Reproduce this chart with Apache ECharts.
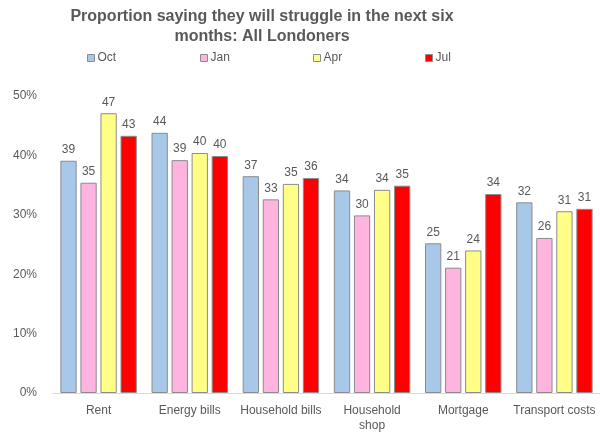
<!DOCTYPE html>
<html>
<head>
<meta charset="utf-8">
<script src="https://cdn.jsdelivr.net/npm/echarts@6/dist/echarts.min.js"></script>
<style>html,body{margin:0;padding:0;background:#fff;}#c{width:600px;height:433px;}</style>
</head>
<body>
<div id="c"></div>
<script>
const categories = ["Rent", "Energy bills", "Household bills", "Household\nshop", "Mortgage", "Transport costs"];
const seriesNames = ["Oct", "Jan", "Apr", "Jul"];
const octValues = [39.1, 43.8, 36.5, 34.1, 25.2, 32.1];
const janValues = [35.4, 39.2, 32.6, 29.9, 21.1, 26.1];
const aprValues = [47.1, 40.4, 35.2, 34.2, 24.0, 30.6];
const julValues = [43.3, 39.9, 36.2, 34.9, 33.5, 31.0];
const yTicks = [0, 10, 20, 30, 40, 50];

const colors = ["#A7C8E8", "#FFB3DF", "#FFFF88", "#FF0000"];
const allValues = [octValues, janValues, aprValues, julValues];
const textColor = "#595959";
const font = "Liberation Sans, Arial, sans-serif";

const legendLefts = [82, 195, 308, 420];

const chart = echarts.init(document.getElementById('c'), null, {renderer: 'canvas'});
chart.setOption({
  animation: false,
  textStyle: {fontFamily: font, color: textColor},
  title: {
    text: "Proportion saying they will struggle in the next six\nmonths: All Londoners",
    left: 257, textAlign: 'center', top: 2,
    textStyle: {fontFamily: font, fontSize: 16, fontWeight: 'bold', color: textColor, lineHeight: 20}
  },
  legend: seriesNames.map((n, i) => ({
    data: [n], left: legendLefts[i], top: 47,
    itemWidth: 7, itemHeight: 7, itemGap: 4, icon: 'rect',
    itemStyle: {borderColor: '#8C8C8C', borderWidth: 1},
    textStyle: {fontFamily: font, fontSize: 12, color: textColor, padding: [0, 0, 0, -2]}
  })),
  grid: {left: 53, right: 0, top: 96, bottom: 37, containLabel: false},
  xAxis: {
    type: 'category', data: categories,
    axisLine: {lineStyle: {color: '#D9D9D9'}},
    axisTick: {show: false},
    axisLabel: {fontFamily: font, fontSize: 12, color: textColor, margin: 10, interval: 0, lineHeight: 15}
  },
  yAxis: {
    type: 'value', min: yTicks[0], max: yTicks[yTicks.length - 1], interval: 10,
    axisLine: {show: false}, axisTick: {show: false},
    splitLine: {show: false},
    axisLabel: {fontFamily: font, fontSize: 12, color: textColor, margin: 16, formatter: v => v + '%'}
  },
  series: seriesNames.map((n, i) => ({
    name: n, type: 'bar', data: allValues[i],
    barWidth: 16.3, barGap: '23%',
    itemStyle: {color: colors[i], borderColor: '#8C8C8C', borderWidth: 1},
    label: {show: true, position: 'top', distance: 5, fontFamily: font, fontSize: 12, color: textColor,
      formatter: p => Math.round(p.value)}
  }))
});
</script>
</body>
</html>
